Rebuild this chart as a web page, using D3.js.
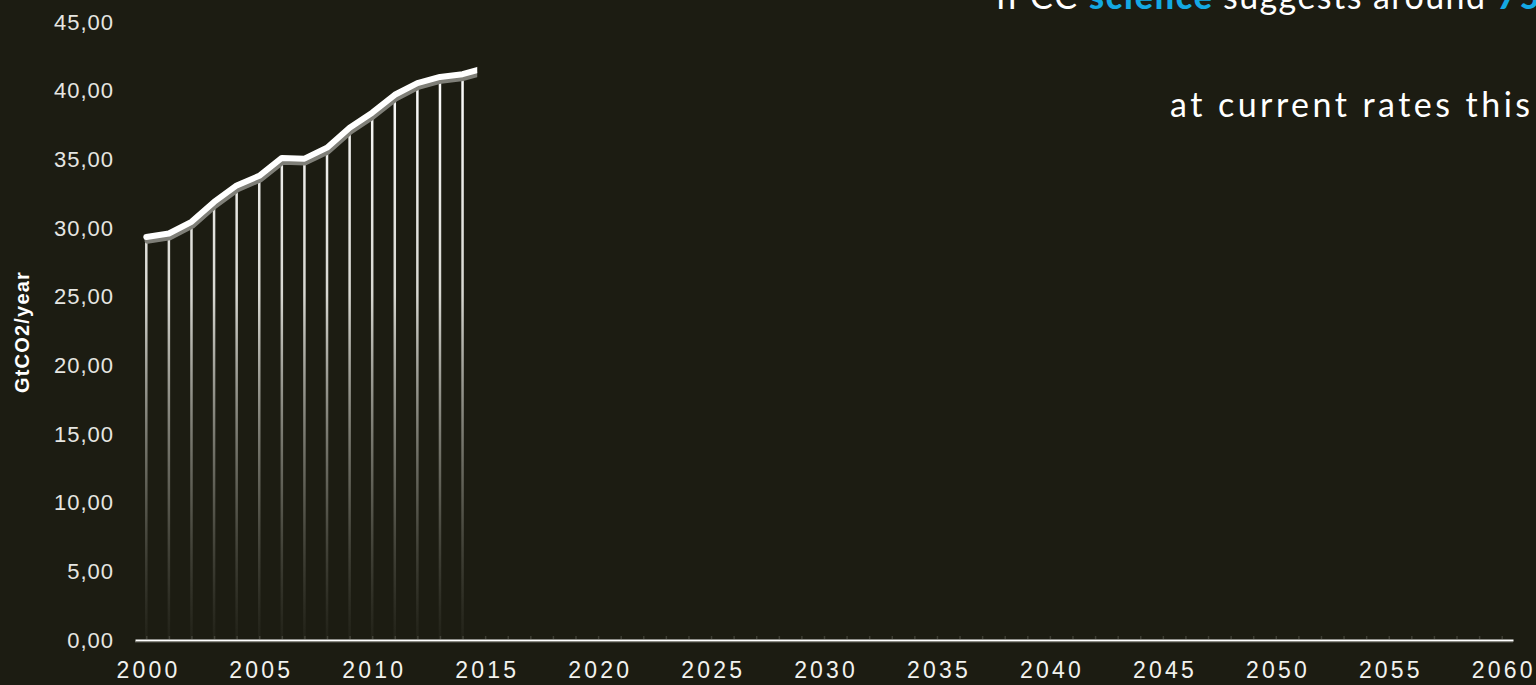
<!DOCTYPE html>
<html>
<head>
<meta charset="utf-8">
<title>Global CO2 emissions</title>
<script src="https://cdn.jsdelivr.net/npm/d3@7"></script>
<style>
  html, body { margin: 0; padding: 0; background: #1c1c12; }
  svg { display: block; }
</style>
</head>
<body>
<svg id="chart" width="1536" height="685"></svg>
<script>
// Annual global CO2 emissions, GtCO2/year
const years = [2000, 2001, 2002, 2003, 2004, 2005, 2006, 2007, 2008, 2009, 2010, 2011, 2012, 2013, 2014, 2015];
const emissions = [29.35, 29.6, 30.45, 31.9, 33.1, 33.8, 35.1, 35.05, 35.85, 37.3, 38.4, 39.7, 40.55, 41.0, 41.2, 41.65];
// how far along the time axis the emissions line has been drawn so far
const drawnThrough = 2014.65;

const yTicks = [0, 5, 10, 15, 20, 25, 30, 35, 40, 45];
const xLabelYears = [2000, 2005, 2010, 2015, 2020, 2025, 2030, 2035, 2040, 2045, 2050, 2055, 2060];
const minorYears = d3.range(2000, 2061);

const headline = [
  { text: "IPCC", start: 996, end: 1077, accent: false },
  { text: "science", start: 1089, end: 1212, accent: true },
  { text: "suggests around", start: 1223, end: 1485, accent: false },
  { text: "75", start: 1497, end: null, accent: true }
];
const subline = { text: "at current rates this", start: 1170, end: 1530 };

const W = 1536, H = 685;
const bg = "#1c1c12";
const accent = "#14a9e3";

const svg = d3.select("#chart");
svg.append("rect").attr("width", W).attr("height", H).attr("fill", bg);

const x = d3.scaleLinear().domain([1999.5, 2060.5]).range([135, 1513]);
const y = d3.scaleLinear().domain([0, 45]).range([640, 22]);

const defs = svg.append("defs");
const grad = defs.append("linearGradient")
  .attr("id", "dropFade")
  .attr("gradientUnits", "userSpaceOnUse")
  .attr("x1", 0).attr("x2", 0)
  .attr("y1", y(42)).attr("y2", y(0));
grad.append("stop").attr("offset", "0%").attr("stop-color", "#ffffff").attr("stop-opacity", 1);
grad.append("stop").attr("offset", "40%").attr("stop-color", "#ececE6").attr("stop-opacity", 0.9);
grad.append("stop").attr("offset", "75%").attr("stop-color", "#9a9a90").attr("stop-opacity", 0.5);
grad.append("stop").attr("offset", "100%").attr("stop-color", "#6a6a60").attr("stop-opacity", 0.08);

defs.append("clipPath").attr("id", "drawn")
  .append("rect")
  .attr("x", 0).attr("y", 0)
  .attr("width", x(drawnThrough)).attr("height", H);

const series = years.map((yr, i) => ({ year: yr, value: emissions[i] }));
const shown = series.filter(d => d.year <= drawnThrough);

// minor year ticks along the time axis
const minorAxis = d3.axisBottom(x).tickValues(minorYears).tickSize(-3).tickFormat("").tickSizeOuter(0);
const gMinor = svg.append("g").attr("transform", "translate(0,639)").call(minorAxis);
gMinor.select(".domain").remove();
gMinor.selectAll(".tick line").attr("stroke", "#3e3e34").attr("stroke-width", 1.5);

// vertical drop lines from each yearly value down to zero
svg.append("g").selectAll("line")
  .data(shown)
  .join("line")
  .attr("x1", d => x(d.year)).attr("x2", d => x(d.year))
  .attr("y1", d => y(d.value)).attr("y2", y(0))
  .attr("stroke", "url(#dropFade)")
  .attr("stroke-width", 2.5);

// emissions line with a soft grey shadow underneath
const line = d3.line().x(d => x(d.year)).y(d => y(d.value)).curve(d3.curveLinear);
const lineG = svg.append("g").attr("clip-path", "url(#drawn)");
lineG.append("path")
  .datum(series)
  .attr("d", line)
  .attr("transform", "translate(1,4)")
  .attr("fill", "none")
  .attr("stroke", "#7f7f78")
  .attr("stroke-width", 5.5)
  .attr("stroke-linecap", "round")
  .attr("stroke-linejoin", "round");
lineG.append("path")
  .datum(series)
  .attr("d", line)
  .attr("fill", "none")
  .attr("stroke", "#ffffff")
  .attr("stroke-width", 6)
  .attr("stroke-linecap", "round")
  .attr("stroke-linejoin", "round");

// time axis
const xAxis = d3.axisBottom(x).tickValues(xLabelYears).tickFormat(d3.format("d"))
  .tickSize(0).tickSizeOuter(0).tickPadding(21.5);
const gx = svg.append("g").attr("transform", "translate(0,640)").call(xAxis);
gx.select(".domain").attr("stroke", "#ffffff").attr("stroke-width", 2);
gx.selectAll(".tick text")
  .attr("fill", "#f2f2ee")
  .attr("font-family", "'Liberation Sans', Arial, sans-serif")
  .attr("font-size", 23)
  .attr("letter-spacing", "3.2px")
  .attr("dx", "1.6px");
// thin grey underline beneath the axis
svg.append("line")
  .attr("x1", x.range()[0]).attr("x2", x.range()[1])
  .attr("y1", 641.8).attr("y2", 641.8)
  .attr("stroke", "#8a8a82").attr("stroke-width", 1);

// value axis
const yAxis = d3.axisLeft(y).tickValues(yTicks)
  .tickFormat(d => d3.format(".2f")(d).replace(".", ","))
  .tickSize(0).tickPadding(21);
const gy = svg.append("g").attr("transform", "translate(135,0)").call(yAxis);
gy.select(".domain").remove();
gy.selectAll(".tick text")
  .attr("fill", "#e6e6e2")
  .attr("font-family", "'Liberation Sans', Arial, sans-serif")
  .attr("font-size", 22)
  .attr("letter-spacing", "1px");

svg.append("text")
  .attr("transform", "translate(29,332) rotate(-90)")
  .attr("text-anchor", "middle")
  .attr("fill", "#ffffff")
  .attr("font-family", "'Liberation Sans', Arial, sans-serif")
  .attr("font-weight", "bold")
  .attr("font-size", 20)
  .attr("letter-spacing", "1.2px")
  .text("GtCO2/year");

// headline text
const headG = svg.append("g")
  .attr("font-family", "Lato, 'Noto Sans', sans-serif")
  .attr("font-size", 34);
headG.selectAll("text.head")
  .data(headline)
  .join("text")
  .attr("class", "head")
  .attr("x", d => d.start)
  .attr("y", 9)
  .attr("fill", d => d.accent ? accent : "#ffffff")
  .attr("font-weight", d => d.accent ? 900 : 400)
  .attr("letter-spacing", d => d.end ? null : "3px")
  .attr("textLength", d => d.end ? d.end - d.start : null)
  .attr("lengthAdjust", "spacing")
  .text(d => d.text);

headG.append("text")
  .attr("x", subline.start)
  .attr("y", 117)
  .attr("fill", "#ffffff")
  .attr("textLength", subline.end - subline.start)
  .attr("lengthAdjust", "spacing")
  .text(subline.text);
</script>
</body>
</html>
